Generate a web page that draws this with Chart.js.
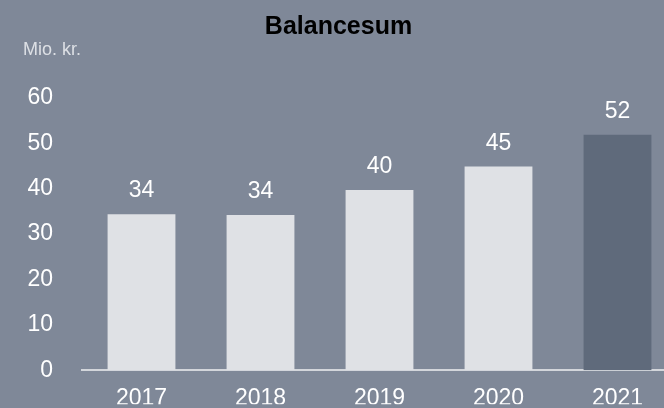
<!DOCTYPE html>
<html>
<head>
<meta charset="utf-8">
<script src="https://cdn.jsdelivr.net/npm/chart.js@4.4.0/dist/chart.umd.min.js"></script>
<style>
  html, body { margin: 0; padding: 0; background: #7f8898; overflow: hidden; }
  #wrap { width: 680px; height: 413px; }
</style>
</head>
<body>
<div id="wrap"><canvas id="balanceChart"></canvas></div>
<script>
var years = ['2017', '2018', '2019', '2020', '2021'];
var balance = [34.4, 34.2, 39.7, 44.9, 51.9];
var yTicks = [0, 10, 20, 30, 40, 50, 60];

var barColors = ['#dfe1e5', '#dfe1e5', '#dfe1e5', '#dfe1e5', '#5f6a7b'];
var fontFam = '"Liberation Sans", Arial, sans-serif';

// values above bars and the unit text
var labelPlugin = {
  id: 'barLabels',
  afterDatasetsDraw: function(chart) {
    var ctx = chart.ctx;
    var meta = chart.getDatasetMeta(0);
    ctx.save();
    ctx.fillStyle = '#ffffff';
    ctx.font = '23px ' + fontFam;
    ctx.textAlign = 'center';
    ctx.textBaseline = 'alphabetic';
    meta.data.forEach(function(bar, i) {
      ctx.fillText(Math.round(balance[i]), bar.x, bar.y - 17);
    });
    ctx.font = '18px ' + fontFam;
    ctx.fillStyle = '#dde0e5';
    ctx.textAlign = 'left';
    ctx.fillText('Mio. kr.', 23, 55);
    ctx.restore();
  }
};

var ctx = document.getElementById('balanceChart');
var chart = new Chart(ctx, {
  type: 'bar',
  data: {
    labels: years,
    datasets: [{
      label: 'Balancesum',
      data: balance,
      backgroundColor: barColors,
      barPercentage: 0.57,
      categoryPercentage: 1.0
    }]
  },
  options: {
    responsive: true,
    maintainAspectRatio: false,
    animation: false,
    layout: { padding: { left: 0, right: 3, top: 0, bottom: 0 } },
    plugins: {
      legend: { display: false },
      tooltip: { enabled: false },
      title: {
        display: true,
        text: 'Balancesum',
        color: '#000000',
        font: { family: fontFam, size: 25, weight: 'bold' },
        padding: { top: 12, bottom: 56 }
      }
    },
    scales: {
      x: {
        afterFit: function(scale) { scale.height = 34; },
        grid: { display: false, drawTicks: false },
        border: { display: true, color: '#d3d6db', width: 2 },
        ticks: {
          color: '#ffffff',
          padding: 15,
          font: { family: fontFam, size: 23 }
        }
      },
      y: {
        min: 0,
        max: 60,
        afterFit: function(scale) { scale.width = 82; },
        afterBuildTicks: function(scale) {
          scale.ticks = yTicks.map(function(v) { return { value: v }; });
        },
        grid: { display: false, drawTicks: false },
        border: { display: false },
        ticks: {
          color: '#ffffff',
          padding: 29,
          font: { family: fontFam, size: 23 }
        }
      }
    }
  },
  plugins: [labelPlugin]
});
</script>
</body>
</html>
